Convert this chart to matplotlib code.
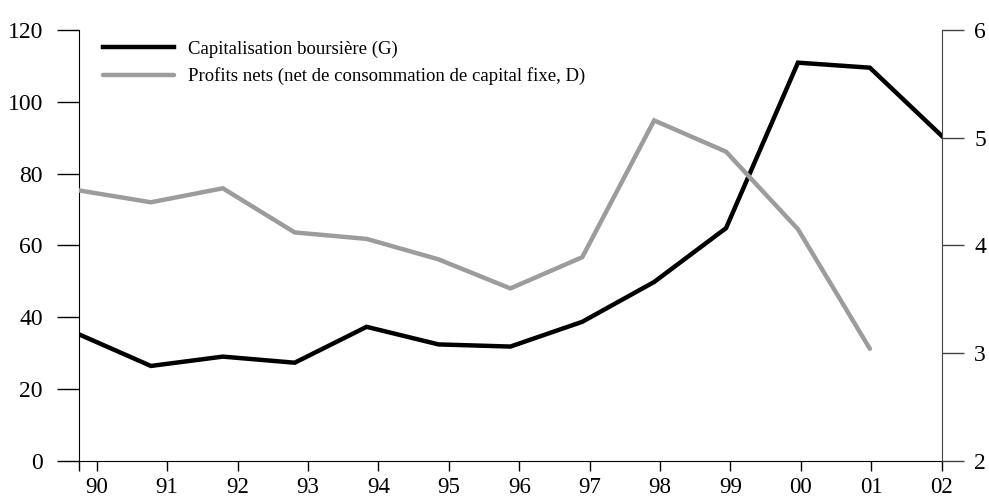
import matplotlib.pyplot as plt
import numpy as np

years = ["90", "91", "92", "93", "94", "95", "96", "97", "98", "99", "00", "01", "02"]
capitalisation = [35.2, 26.4, 29.0, 27.3, 37.3, 32.4, 31.8, 38.7, 49.8, 64.8, 110.9, 109.5, 90.5]
profits = [4.51, 4.40, 4.53, 4.12, 4.06, 3.87, 3.60, 3.89, 5.16, 4.87, 4.15, 3.04]

lab_cap = "Capitalisation boursière (G)"
lab_prof = "Profits nets (net de consommation de capital fixe, D)"

plt.rcParams['font.family'] = ['Liberation Serif', 'DejaVu Serif']

fig = plt.figure(figsize=(9.89, 5), dpi=100)
ax = fig.add_axes([0.0799, 0.0786, 0.8723, 0.8614])
ax2 = ax.twinx()

x = np.arange(len(capitalisation))
l1, = ax.plot(x, capitalisation, color="black", lw=3.2, solid_joinstyle="miter", zorder=3)
l2, = ax2.plot(np.arange(len(profits)), profits, color="#9c9c9c", lw=3.2,
               solid_joinstyle="miter", solid_capstyle="round")

ax.set_xlim(0, 12)
ax.set_ylim(0, 120)
ax2.set_ylim(2, 6)

# year ticks are slightly shifted relative to the data points
ax.set_xticks(np.linspace(0.246, 12, 13))
ax.set_xticklabels(years)
ax.set_xticks([0], minor=True)
ax.set_yticks(range(0, 121, 20))
ax2.set_yticks(range(2, 7))

for s in ["top", "right"]:
    ax.spines[s].set_visible(False)
for s in ["top", "left", "bottom"]:
    ax2.spines[s].set_visible(False)
ax2.spines["right"].set_color("#444444")

ax.tick_params(axis="y", direction="out", length=16, width=1, pad=10, labelsize=17)
ax.tick_params(axis="x", which="both", direction="out", length=7, width=1, pad=5, labelsize=16.5)
ax2.tick_params(axis="y", direction="out", length=15.5, width=1, pad=8, labelsize=17, color="#444444")

ax.legend([l1, l2], [lab_cap, lab_prof], loc="upper left", bbox_to_anchor=(0.028, 0.975),
          frameon=False, fontsize=13.5, handlelength=3.8, handletextpad=0.7,
          labelspacing=0.5, borderpad=0, borderaxespad=0)

fig.savefig("out.png", dpi=100)
